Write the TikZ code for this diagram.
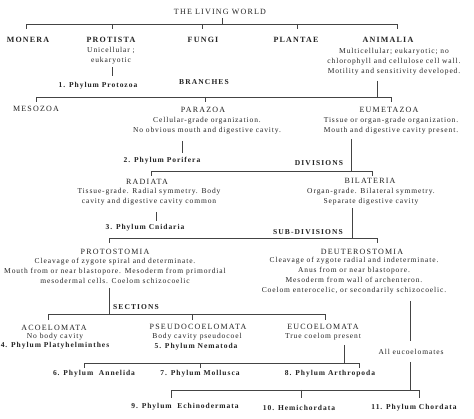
\documentclass[tikz,border=0pt]{standalone}
\usepackage{fontspec}
\setmainfont{Liberation Serif}
\newfontfamily\hfont[LetterSpace=15]{Liberation Serif}
\newfontfamily\bfont[LetterSpace=12]{Liberation Serif}
\newfontfamily\pfont[LetterSpace=13]{Liberation Serif}
\definecolor{ink}{HTML}{222222}
\definecolor{wire}{HTML}{444444}
\begin{document}
\begin{tikzpicture}[x=1pt,y=-1pt,
  every node/.style={inner sep=0pt, text=ink},
  ttl/.style={font=\hfont\fontsize{8}{10}\selectfont},
  hb/.style={font=\hfont\bfseries\fontsize{8}{10}\selectfont},
  hd/.style={font=\hfont\fontsize{8}{10}\selectfont},
  bh/.style={font=\hfont\bfseries\fontsize{7.5}{10}\selectfont},
  tx/.style={font=\bfont\fontsize{7.5}{10}\selectfont, align=center},
  ph/.style={font=\pfont\bfseries\fontsize{7.5}{10}\selectfont},
  wire/.style={draw=wire, line width=0.8pt}]
\useasboundingbox (0,0) rectangle (474,419);
\fill[white] (0,0) rectangle (474,419);

% ---------- nodes ----------
\node[ttl] (title) at (220,12) {THE LIVING WORLD};
\node[hb] (monera) at (28,40) {MONERA};
\node[hb] (protista) at (111,40) {PROTISTA};
\node[tx] (protistaD) at (111,56) {Unicellular ;\\eukaryotic};
\node[ph] (protozoa) at (98,86) {1. Phylum Protozoa};
\node[hb] (fungi) at (203,40) {FUNGI};
\node[hb] (plantae) at (296,40) {PLANTAE};
\node[hb] (animalia) at (388,40) {ANIMALIA};
\node[tx] (animaliaD) at (394,62) {Multicellular; eukaryotic; no\\chlorophyll and cellulose cell wall.\\Motility and sensitivity developed.};
\node[bh] (branches) at (204,82) {BRANCHES};

\node[hd] (mesozoa) at (36,109) {MESOZOA};
\node[hd] (parazoa) at (203,110) {PARAZOA};
\node[tx] (parazoaD) at (207,126) {Cellular-grade organization.\\No obvious mouth and digestive cavity.};
\node[ph] (porifera) at (162,161) {2. Phylum Porifera};
\node[hd] (eumetazoa) at (389,110) {EUMETAZOA};
\node[tx] (eumetazoaD) at (391,126) {Tissue or organ-grade organization.\\Mouth and digestive cavity present.};
\node[bh] (divisions) at (319,163) {DIVISIONS};

\node[hd] (radiata) at (147,182) {RADIATA};
\node[tx] (radiataD) at (149,197) {Tissue-grade. Radial symmetry. Body\\cavity and digestive cavity common};
\node[ph] (cnidaria) at (145,228) {3. Phylum Cnidaria};
\node[hd] (bilateria) at (370,181) {BILATERIA};
\node[tx] (bilateriaD) at (371,197) {Organ-grade. Bilateral symmetry.\\Separate digestive cavity};
\node[bh] (subdiv) at (308,232) {SUB-DIVISIONS};

\node[hd] (protostomia) at (115,252) {PROTOSTOMIA};
\node[tx] (protostomiaD) at (115,271) {Cleavage of zygote spiral and determinate.\\Mouth from or near blastopore. Mesoderm from primordial\\mesodermal cells. Coelom schizocoelic};
\node[hd] (deutero) at (362,252) {DEUTEROSTOMIA};
\node[tx] (deuteroD) at (354,276) {Cleavage of zygote radial and indeterminate.\\Anus from or near blastopore.\\Mesoderm from wall of archenteron.\\Coelom enterocelic, or secondarily schizocoelic.};
\node[bh] (sections) at (136,307) {SECTIONS};

\node[hd] (acoel) at (54,328) {ACOELOMATA};
\node[tx] (acoelD) at (55,337) {No body cavity};
\node[ph] (platy) at (55,346) {4. Phylum Platyhelminthes};
\node[hd] (pseudo) at (198,327) {PSEUDOCOELOMATA};
\node[tx] (pseudoD) at (197,337) {Body cavity pseudocoel};
\node[ph] (nematoda) at (196,347) {5. Phylum Nematoda};
\node[hd] (eucoel) at (323,327) {EUCOELOMATA};
\node[tx] (eucoelD) at (323,337) {True coelom present};
\node[tx] (alleu) at (411,352) {All eucoelomates};

\node[ph] (annelida) at (94,374) {6. Phylum\ \ Annelida};
\node[ph] (mollusca) at (200,374) {7. Phylum Mollusca};
\node[ph] (arthropoda) at (330,374) {8. Phylum Arthropoda};
\node[ph] (echino) at (185,407) {9. Phylum\ \ Echinodermata};
\node[ph] (hemi) at (299,408) {10. Hemichordata};
\node[ph] (chordata) at (414,408) {11. Phylum Chordata};

% ---------- bus coordinates ----------
\coordinate (t0) at (222,18);
\coordinate (b1L) at (26,24);   \coordinate (b1R) at (397,24);
\coordinate (b1a) at (112,24);  \coordinate (b1b) at (202,24);
\coordinate (b1c) at (297,24);  \coordinate (b1t) at (222,24);

\coordinate (p1) at (112,67);   \coordinate (p2) at (112,76);
\coordinate (a1) at (377,81);

\coordinate (b2L) at (36,97);   \coordinate (b2R) at (391,97);
\coordinate (b2a) at (205,97);  \coordinate (b2m) at (377,97);

\coordinate (q1) at (182,141);  \coordinate (q2) at (182,153);
\coordinate (e1) at (351,139);

\coordinate (b3L) at (151,171); \coordinate (b3R) at (372,171);
\coordinate (b3m) at (351,171);

\coordinate (r1) at (156,212);  \coordinate (r2) at (156,221);
\coordinate (s1) at (352,208);

\coordinate (b4L) at (109,238); \coordinate (b4R) at (377,238);
\coordinate (b4m) at (352,238);

\coordinate (u1) at (109,288);
\coordinate (b5L) at (48,314);  \coordinate (b5R) at (325,314);
\coordinate (b5a) at (192,314); \coordinate (b5m) at (109,314);

\coordinate (v1) at (344,345);
\coordinate (b6L) at (84,363);  \coordinate (b6R) at (359,363);
\coordinate (b6a) at (200,363); \coordinate (b6m) at (344,363);

\coordinate (d1) at (410,301);  \coordinate (d2) at (410,341);
\coordinate (d3) at (410,362);
\coordinate (b7L) at (171,390); \coordinate (b7R) at (419,390);
\coordinate (b7a) at (301,390); \coordinate (b7m) at (410,390);

% ---------- connectors ----------
\draw[wire] (t0) -- (b1t);
\draw[wire] (b1L) ++(0,5) -- (b1L) -- (b1R) -- ++(0,5);
\draw[wire] (b1a) -- ++(0,5);
\draw[wire] (b1b) -- ++(0,5);
\draw[wire] (b1c) -- ++(0,5);
\draw[wire] (p1) -- (p2);
\draw[wire] (a1) -- (b2m);

\draw[wire] (b2L) ++(0,5) -- (b2L) -- (b2R) -- ++(0,5);
\draw[wire] (b2a) -- ++(0,5);
\draw[wire] (q1) -- (q2);
\draw[wire] (e1) -- (b3m);

\draw[wire] (b3L) ++(0,5) -- (b3L) -- (b3R) -- ++(0,5);
\draw[wire] (r1) -- (r2);
\draw[wire] (s1) -- (b4m);

\draw[wire] (b4L) ++(0,5) -- (b4L) -- (b4R) -- ++(0,5);
\draw[wire] (u1) -- (b5m);

\draw[wire] (b5L) ++(0,6) -- (b5L) -- (b5R) -- ++(0,6);
\draw[wire] (b5a) -- ++(0,6);
\draw[wire] (v1) -- (b6m);

\draw[wire] (b6L) ++(0,5) -- (b6L) -- (b6R) -- ++(0,5);
\draw[wire] (b6a) -- ++(0,5);

\draw[wire] (d1) -- (d2);
\draw[wire] (d3) -- (b7m);
\draw[wire] (b7L) ++(0,8) -- (b7L) -- (b7R) -- ++(0,8);
\draw[wire] (b7a) -- ++(0,8);
\end{tikzpicture}
\end{document}
